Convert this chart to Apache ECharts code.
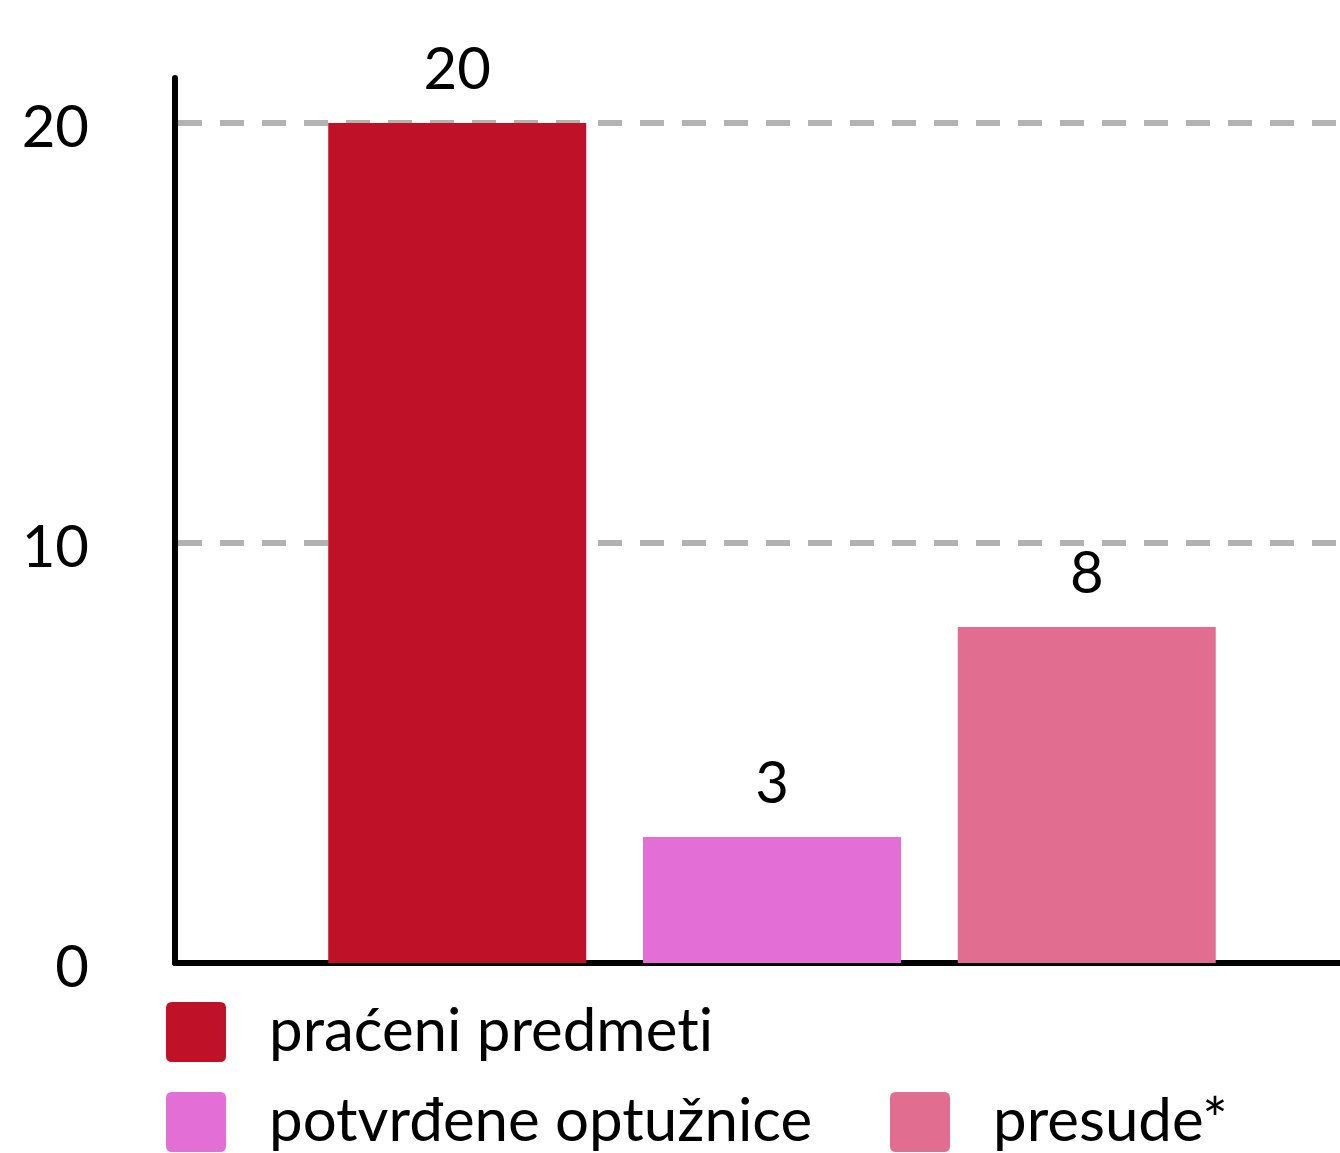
<!DOCTYPE html>
<html>
<head>
<meta charset="utf-8">
<script src="https://cdn.jsdelivr.net/npm/echarts@6/dist/echarts.min.js"></script>
<style>
html,body{margin:0;padding:0;background:#fff;}
#chart{width:1340px;height:1153px;}
</style>
</head>
<body>
<div id="chart"></div>
<script>
const categories = [''];
const seriesNames = ['praćeni predmeti', 'potvrđene optužnice', 'presude*'];
const seriesValues = [[20], [3], [8]];
const seriesColors = ['#BF1127', '#E26ED6', '#E16E91'];
const yTicks = [0, 10, 20];

// draw text without discretionary ligatures (e.g. "ti")
(function () {
  const proto = CanvasRenderingContext2D.prototype;
  const orig = proto.fillText;
  proto.fillText = function (t, x, y, m) {
    try { this.textRendering = 'optimizeSpeed'; } catch (e) {}
    return m === undefined ? orig.call(this, t, x, y) : orig.call(this, t, x, y, m);
  };
})();

const FONT = 'Lato';
const icon = 'path://M6,0H54Q60,0 60,6V54Q60,60 54,60H6Q0,60 0,54V6Q0,0 6,0Z';

const chart = echarts.init(document.getElementById('chart'), null, {renderer: 'canvas'});

const legendBase = {
  orient: 'horizontal',
  itemWidth: 60,
  itemHeight: 60,
  icon: icon,
  selectedMode: false,
  padding: 0,
  textStyle: {fontFamily: FONT, fontSize: 60, color: '#000', padding: [8, 0, 0, 38]}
};

chart.setOption({
  animation: false,
  backgroundColor: '#fff',
  grid: {left: 175, right: -29, top: 78, bottom: 190, containLabel: false, outerBoundsMode: 'none'},
  legend: [
    Object.assign({}, legendBase, {left: 166, top: 1002, data: [seriesNames[0]]}),
    Object.assign({}, legendBase, {left: 166, top: 1092, data: [seriesNames[1]]}),
    Object.assign({}, legendBase, {left: 890, top: 1092, data: [seriesNames[2]]})
  ],
  xAxis: {
    type: 'category',
    data: categories,
    axisLine: {show: true, lineStyle: {color: '#000', width: 6}},
    axisTick: {show: false},
    axisLabel: {show: false},
    splitLine: {show: false}
  },
  yAxis: {
    type: 'value',
    min: yTicks[0],
    max: 21.07,
    interval: yTicks[1] - yTicks[0],
    axisLine: {show: true, lineStyle: {color: '#000', width: 6}},
    axisTick: {show: false},
    axisLabel: {
      showMaxLabel: false,
      margin: 86,
      verticalAlign: 'top',
      lineHeight: 10,
      fontFamily: FONT,
      fontSize: 58,
      color: '#000',
      formatter: function (v) { return yTicks.indexOf(v) >= 0 ? String(v) : ''; }
    },
    splitLine: {
      show: true,
      showMinLine: false,
      showMaxLine: false,
      lineStyle: {color: '#B2B2B2', width: 6, type: [24, 18], dashOffset: -3}
    }
  },
  series: seriesNames.map(function (name, i) {
    return {
      name: name,
      type: 'bar',
      data: seriesValues[i],
      barWidth: 258,
      barGap: '22%',
      itemStyle: {color: seriesColors[i]},
      label: {
        show: true,
        position: 'top',
        distance: 24,
        fontFamily: FONT,
        fontSize: 58,
        color: '#000'
      }
    };
  })
});
</script>
</body>
</html>
